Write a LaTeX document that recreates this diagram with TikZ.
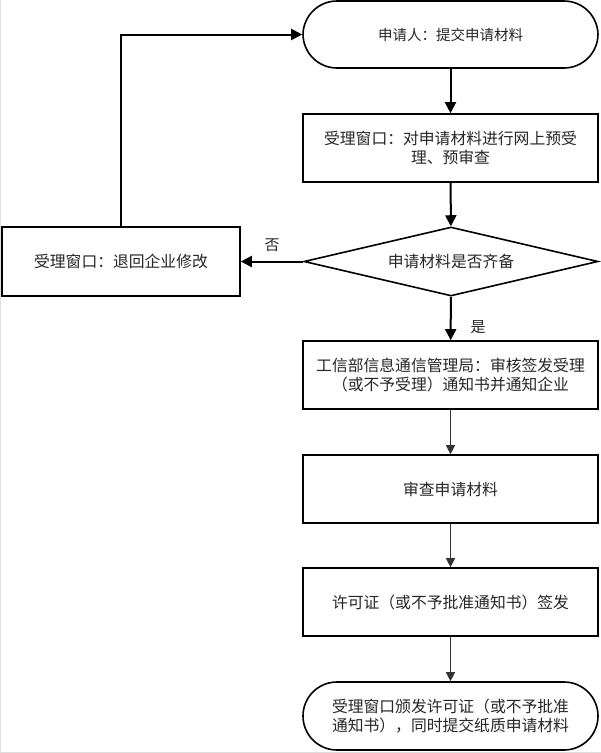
\documentclass[tikz,border=0pt]{standalone}
\usepackage{fontspec}
\setmainfont{Noto Sans CJK SC}
\usetikzlibrary{shapes.geometric,arrows.meta}
\begin{document}
\begin{tikzpicture}[x=1pt,y=1pt,
  font=\fontsize{15.8pt}{19.5pt}\selectfont,
  txt/.style={text=black!85},
  procbox/.style={draw,line width=1.6pt,minimum width=295pt,minimum height=68pt,inner sep=0pt,align=center,txt},
  termbox/.style={procbox,rounded corners=34pt},
  decbox/.style={draw,line width=1.6pt,diamond,aspect=4.3,minimum width=294pt,minimum height=69pt,inner sep=0pt,align=center,txt},
  thickarr/.style={line width=2pt,-{Triangle[length=11pt,width=11pt]}},
  thinarr/.style={line width=0.7pt,draw=black!80,-{Triangle[length=9pt,width=9pt]}},
  lbl/.style={txt,font=\fontsize{15pt}{18pt}\selectfont}
]
\useasboundingbox (0,0) rectangle (601,-753);
\fill[white] (0,0) rectangle (601,-753);
\draw[gray!25,line width=1pt] (0.5,0) -- (0.5,-752.5) -- (601,-752.5);

\node[termbox,minimum height=67pt,font=\fontsize{14.5pt}{18pt}\selectfont] (t1) at (450.5,-34.5) {申请人：提交申请材料};
\node[procbox] (b2) at (450.5,-148) {受理窗口：对申请材料进行网上预受\\理、预审查};
\node[decbox] (dia) at (451,-261.5) {申请材料是否齐备};
\node[procbox,minimum width=238pt,minimum height=69pt] (lb) at (121,-261.5) {受理窗口：退回企业修改};
\node[procbox] (b3) at (450.5,-375) {工信部信息通信管理局：审核签发受理\\（或不予受理）通知书并通知企业};
\node[procbox] (b4) at (450.5,-489) {审查申请材料};
\node[procbox] (b5) at (450.5,-602) {许可证（或不予批准通知书）签发};
\node[termbox] (t6) at (450.5,-716) {受理窗口颁发许可证（或不予批准\\通知书），同时提交纸质申请材料};

\draw[thickarr] (t1) -- (b2);
\draw[thickarr] (b2) -- (dia);
\draw[thickarr] (dia) -- (b3);
\draw[thickarr] (dia.west) -- (lb.east);
\draw[thickarr] (lb.north) -- (lb.north |- t1.west) -- (t1.west);
\draw[thinarr] (b3) -- (b4);
\draw[thinarr] (b4) -- (b5);
\draw[thinarr] (b5) -- (t6);

\node[lbl] (no) at (272,-245) {否};
\node[lbl] (yes) at (478,-327) {是};
\end{tikzpicture}
\end{document}
